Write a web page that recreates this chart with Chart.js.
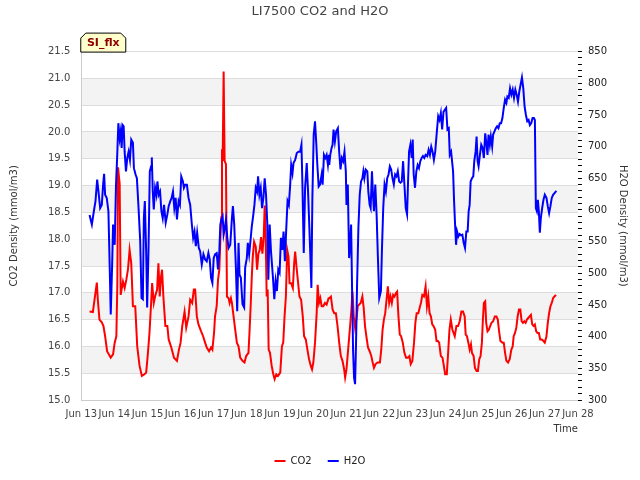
<!DOCTYPE html>
<html>
<head>
<meta charset="utf-8">
<title>LI7500 CO2 and H2O</title>
<script src="https://cdn.jsdelivr.net/npm/chart.js@4.4.0/dist/chart.umd.min.js"></script>
<style>
  body { margin: 0; background: #fff; }
  #wrap { width: 640px; height: 480px; }
</style>
</head>
<body>
<div id="wrap"><canvas id="chart" width="640" height="480"></canvas></div>
<script>
// time is in days of June (13.5 = Jun 13, 12:00)
const co2Days = [
  13.25, 13.35, 13.40, 13.47, 13.50, 13.55, 13.62, 13.67, 13.72, 13.78, 13.89, 13.96,
  14.01, 14.06, 14.09, 14.11, 14.16, 14.19, 14.26, 14.31, 14.36, 14.41, 14.46, 14.51,
  14.56, 14.63, 14.69, 14.76, 14.83, 14.91, 14.96, 15.01, 15.06, 15.11, 15.14, 15.19,
  15.23, 15.29, 15.33, 15.37, 15.41, 15.44, 15.48, 15.54, 15.60, 15.64, 15.72, 15.80,
  15.89, 15.95, 16.00, 16.05, 16.12, 16.17, 16.24, 16.29, 16.35, 16.40, 16.44, 16.49,
  16.54, 16.62, 16.68,
  16.74, 16.79, 16.86, 16.92, 16.96, 17.01, 17.04, 17.09, 17.13, 17.17, 17.20, 17.23,
  17.25, 17.27, 17.30, 17.33, 17.37, 17.40, 17.45, 17.48, 17.52, 17.55, 17.60, 17.65,
  17.70, 17.75, 17.80, 17.87, 17.93, 17.98, 18.05, 18.08, 18.12, 18.15, 18.18, 18.22,
  18.27, 18.31, 18.35, 18.39, 18.43, 18.47, 18.51, 18.54, 18.57, 18.60, 18.63, 18.66,
  18.70, 18.75, 18.80, 18.84, 18.89, 18.94, 19.01, 19.06, 19.10, 19.14, 19.18, 19.22,
  19.26, 19.29, 19.34, 19.39, 19.43, 19.46, 19.50, 19.54, 19.59, 19.64, 19.69, 19.73,
  19.78, 19.83, 19.88, 19.93, 19.97, 20.01, 20.06, 20.11, 20.14, 20.18, 20.22, 20.26,
  20.31, 20.36, 20.41, 20.47,
  20.49, 20.54, 20.59, 20.64, 20.69, 20.74, 20.79, 20.84, 20.89, 20.94, 20.97, 21.01,
  21.06, 21.11, 21.16, 21.19, 21.23, 21.27, 21.31, 21.35, 21.39, 21.44, 21.49, 21.53,
  21.57, 21.61, 21.66, 21.71, 21.76, 21.79, 21.84, 21.89, 21.95, 22.02, 22.06, 22.10,
  22.14, 22.18, 22.22, 22.26, 22.30, 22.34, 22.38, 22.42, 22.46, 22.50, 22.54, 22.58,
  22.62, 22.66, 22.71, 22.76, 22.81, 22.86, 22.91, 22.95, 23.00, 23.05, 23.09, 23.13,
  23.18, 23.22, 23.26, 23.30, 23.35, 23.40, 23.44, 23.48, 23.52, 23.56, 23.60, 23.64,
  23.69, 23.73, 23.77, 23.81, 23.86, 23.91, 23.95, 23.99, 24.04, 24.08, 24.12, 24.16,
  24.21,
  24.28, 24.33, 24.38, 24.43, 24.48, 24.53, 24.58, 24.61, 24.65, 24.69, 24.73, 24.77,
  24.80, 24.85, 24.89, 24.94, 24.98, 25.02, 25.06, 25.10, 25.13, 25.16, 25.20, 25.23,
  25.27, 25.31, 25.35, 25.39, 25.44, 25.49, 25.54, 25.58, 25.62, 25.66, 25.72, 25.76,
  25.80, 25.84, 25.89, 25.94, 25.99, 26.03, 26.06, 26.10, 26.14, 26.18, 26.22, 26.26,
  26.30, 26.34, 26.38, 26.42, 26.46, 26.50, 26.54, 26.58, 26.62, 26.66, 26.70, 26.74,
  26.78, 26.82, 26.86, 26.91, 26.96, 27.00, 27.05, 27.09, 27.13, 27.17, 27.21, 27.25,
  27.29, 27.34
];
const co2Values = [
  16.65, 16.64, 16.87, 17.19, 16.87, 16.50, 16.45, 16.38, 16.19, 15.91, 15.79, 15.85,
  16.07, 16.19, 17.18, 19.34, 19.03, 16.96, 17.21, 17.09, 17.24, 17.43, 17.80, 17.55,
  16.75, 16.75, 16.00, 15.64, 15.45, 15.48, 15.51, 15.85, 16.25, 16.81, 17.18, 16.81,
  16.93, 17.06, 17.55, 16.93, 17.30, 17.43, 16.93, 16.38, 16.38, 16.13, 15.98, 15.79,
  15.73, 15.94, 16.07, 16.38, 16.65, 16.35, 16.56, 16.87, 16.81, 17.06, 17.06, 16.56,
  16.41, 16.28, 16.19,
  16.07, 15.98, 15.91, 15.98, 15.94, 16.25, 16.56, 16.75, 17.24, 17.43, 17.98, 18.41,
  19.68, 19.46, 21.13, 19.46, 19.40, 16.93, 16.90, 16.81, 16.90, 16.81, 16.56, 16.31,
  16.07, 16.00, 15.79, 15.73, 15.70, 15.82, 15.88, 16.25, 16.81, 17.30, 17.67, 17.95,
  17.86, 17.43, 17.73, 17.80, 18.04, 17.73, 18.04, 18.63, 18.04, 16.93, 17.06, 15.94,
  15.88, 15.64, 15.48, 15.39, 15.48, 15.45, 15.51, 16.00, 16.07, 16.56, 16.93, 17.80,
  17.67, 17.18, 17.18, 17.09, 17.55, 17.77, 17.49, 17.24, 16.93, 16.87, 16.56, 16.19,
  16.13, 15.94, 15.76, 15.64, 15.57, 15.70, 16.07, 16.62, 17.15, 16.81, 16.90, 16.75,
  16.75, 16.81, 16.78, 16.90,
  16.90, 16.93, 16.69, 16.62, 16.62, 16.38, 16.07, 15.82, 15.73, 15.57, 15.42, 15.57,
  15.94, 16.31, 16.69, 17.02, 16.56, 16.35, 16.50, 16.75, 16.78, 16.81, 16.93, 16.72,
  16.38, 16.19, 15.98, 15.91, 15.82, 15.73, 15.60, 15.67, 15.70, 15.70, 15.94, 16.31,
  16.50, 16.62, 16.87, 17.12, 16.81, 16.93, 16.81, 16.96, 16.93, 16.99, 17.02, 16.56,
  16.22, 16.19, 16.07, 15.88, 15.79, 15.79, 15.82, 15.67, 15.73, 16.07, 16.44, 16.62,
  16.62, 16.72, 16.81, 16.96, 16.93, 17.12, 16.75, 16.93, 16.62, 16.56, 16.41, 16.38,
  16.31, 16.10, 16.10, 16.07, 15.82, 15.79, 15.64, 15.48, 15.48, 15.88, 16.31, 16.50,
  16.31,
  16.19, 16.38, 16.38, 16.47, 16.65, 16.65, 16.56, 16.22, 16.19, 16.07, 15.94, 16.04,
  15.88, 15.82, 15.60, 15.54, 15.54, 15.76, 15.82, 16.07, 16.50, 16.81, 16.84, 16.44,
  16.28, 16.31, 16.38, 16.44, 16.47, 16.56, 16.56, 16.50, 16.28, 16.10, 16.07, 16.07,
  15.88, 15.73, 15.70, 15.76, 15.94, 16.00, 16.19, 16.25, 16.35, 16.56, 16.69, 16.69,
  16.47, 16.44, 16.47, 16.44, 16.50, 16.53, 16.56, 16.59, 16.41, 16.38, 16.41, 16.28,
  16.25, 16.25, 16.13, 16.13, 16.10, 16.07, 16.19, 16.44, 16.62, 16.75, 16.81, 16.90,
  16.93, 16.96
];

const h2oDays = [
  13.25, 13.32, 13.38, 13.43, 13.48, 13.52, 13.57, 13.62, 13.66, 13.69, 13.72, 13.77,
  13.82, 13.86, 13.89, 13.93, 13.96, 14.01, 14.05, 14.09, 14.12, 14.16, 14.19, 14.22,
  14.25, 14.28, 14.31, 14.35, 14.39, 14.43, 14.47, 14.51, 14.56, 14.59, 14.64, 14.68,
  14.73, 14.78, 14.82, 14.86, 14.89, 14.92, 14.96, 14.99, 15.03, 15.07, 15.11, 15.13,
  15.16, 15.19, 15.23, 15.27, 15.30, 15.34, 15.38, 15.42, 15.46, 15.50, 15.55, 15.60,
  15.64, 15.69, 15.73, 15.77, 15.81, 15.85, 15.89, 15.94, 15.98, 16.02, 16.07, 16.10,
  16.14, 16.19, 16.24, 16.29, 16.34, 16.38, 16.42, 16.46, 16.50, 16.55, 16.59, 16.64,
  16.69,
  16.74, 16.79, 16.84, 16.88, 16.92, 16.96, 17.00, 17.04, 17.09, 17.13, 17.17, 17.20,
  17.23, 17.27, 17.30, 17.33, 17.37, 17.41, 17.45, 17.50, 17.55, 17.58, 17.62, 17.67,
  17.71, 17.75, 17.78, 17.82, 17.87, 17.92, 17.95, 18.00, 18.03, 18.07, 18.11, 18.15,
  18.19, 18.23, 18.27, 18.31, 18.34, 18.38, 18.42, 18.46, 18.50, 18.54, 18.58, 18.62,
  18.65, 18.69, 18.73, 18.79, 18.83, 18.87, 18.91, 18.95, 18.99, 19.03, 19.07, 19.11,
  19.15, 19.19, 19.23, 19.27, 19.31, 19.34, 19.38, 19.41, 19.46, 19.51, 19.56, 19.61,
  19.65, 19.68, 19.72, 19.76, 19.81, 19.85, 19.90, 19.95, 19.98, 20.02, 20.06, 20.10,
  20.13, 20.17, 20.21, 20.26, 20.29, 20.33, 20.37, 20.41, 20.45, 20.48,
  20.49, 20.52, 20.56, 20.59, 20.62, 20.66, 20.70, 20.75, 20.79, 20.83, 20.87, 20.91,
  20.95, 20.99, 21.01, 21.05, 21.09, 21.12, 21.15, 21.18, 21.21, 21.24, 21.27, 21.30,
  21.33, 21.37, 21.41, 21.45, 21.49, 21.52, 21.55, 21.59, 21.64, 21.67, 21.71, 21.74,
  21.78, 21.81, 21.84, 21.88, 21.92, 21.96, 22.00, 22.05, 22.08, 22.12, 22.16, 22.20,
  22.24, 22.28, 22.32, 22.36, 22.40, 22.44, 22.48, 22.52, 22.56, 22.60, 22.64, 22.68,
  22.72, 22.76, 22.80, 22.84, 22.87, 22.90, 22.94, 22.98, 23.01, 23.04, 23.08, 23.12,
  23.16, 23.20, 23.24, 23.28, 23.32, 23.36, 23.40, 23.45, 23.49, 23.53, 23.57, 23.61,
  23.65, 23.69, 23.74, 23.78, 23.82, 23.86, 23.90, 23.94, 23.98, 24.02, 24.06, 24.10,
  24.13, 24.17,
  24.23, 24.26, 24.29, 24.32, 24.35, 24.39, 24.43, 24.47, 24.51, 24.55, 24.59, 24.63,
  24.67, 24.70, 24.73, 24.76, 24.80, 24.84, 24.87, 24.91, 24.94, 24.97, 25.00, 25.04,
  25.08, 25.12, 25.16, 25.20, 25.24, 25.27, 25.30, 25.34, 25.37, 25.41, 25.44, 25.48,
  25.52, 25.56, 25.60, 25.64, 25.68, 25.72, 25.76, 25.80, 25.84, 25.87, 25.91, 25.95,
  25.99, 26.03, 26.07, 26.11, 26.15, 26.19, 26.23, 26.27, 26.31, 26.35, 26.39, 26.43,
  26.47, 26.51, 26.55, 26.59, 26.63, 26.67, 26.70, 26.73, 26.76, 26.79, 26.82, 26.85,
  26.88, 26.92, 26.96, 27.00, 27.05, 27.09, 27.13, 27.17, 27.21, 27.25, 27.30, 27.35
];
const h2oValues = [
  592, 577, 598, 614, 648, 629, 603, 608, 640, 657, 624, 619,
  598, 508, 435, 508, 577, 545, 640, 692, 737, 713, 724, 698,
  734, 732, 692, 661, 682, 692, 679, 711, 706, 666, 656, 650,
  603, 551, 461, 459, 587, 614, 535, 446, 535, 661, 669, 683,
  629, 601, 635, 624, 645, 624, 629, 598, 587, 608, 580, 593,
  606, 614, 619, 629, 603, 619, 585, 614, 608, 653, 645, 635,
  640, 640, 619, 608, 577, 556, 566, 543, 564, 540, 535, 514,
  530,
  522, 519, 532, 522, 493, 485, 524, 530, 532, 506, 535, 577,
  585, 590, 561, 569, 585, 556, 540, 545, 587, 606, 577, 509,
  440, 548, 498, 493, 451, 446, 509, 524, 548, 530, 551, 574,
  590, 608, 635, 629, 653, 624, 635, 603, 619, 650, 624, 577,
  490, 577, 535, 493, 459, 488, 472, 506, 501, 556, 537, 566,
  519, 569, 614, 608, 640, 671, 658, 674, 679, 690, 692, 692,
  703, 640, 532, 635, 674, 629, 556, 477, 619, 719, 740, 703,
  671, 637, 640, 656, 640, 687, 682, 687, 671, 687,
  671, 687, 698, 703, 727, 708, 724, 729, 692, 664, 682, 677,
  692, 661, 608, 640, 524, 545, 577, 472, 377, 335, 325, 393,
  482, 572, 624, 645, 650, 661, 650, 664, 661, 629, 608, 603,
  661, 624, 598, 640, 593, 524, 461, 472, 535, 603, 640, 629,
  650, 656, 669, 664, 650, 640, 656, 653, 661, 645, 643, 645,
  677, 640, 603, 593, 645, 692, 703, 682, 711, 656, 635, 661,
  671, 666, 677, 682, 685, 682, 687, 685, 695, 687, 700, 692,
  679, 692, 724, 748, 742, 753, 727, 755, 758, 761, 727, 729,
  687, 692,
  661, 614, 577, 545, 566, 558, 562, 560, 561, 548, 540, 566,
  566, 598, 608, 645, 650, 653, 677, 692, 716, 677, 669, 687,
  703, 698, 682, 721, 703, 687, 719, 703, 716, 700, 719, 724,
  729, 732, 729, 737, 737, 745, 761, 774, 769, 779, 777, 792,
  782, 790, 777, 790, 782, 771, 787, 798, 809, 792, 763, 750,
  740, 742, 734, 737, 745, 745, 742, 603, 598, 616, 598, 564,
  587, 603, 616, 624, 619, 606, 595, 606, 619, 624, 627, 630
];

// lower edges of the shaded horizontal bands (CO2 units)
const bandStarts = [15.5, 16.5, 17.5, 18.5, 19.5, 20.5];

function toPoints(xs, ys) {
  let pts = [];
  for (let i = 0; i < xs.length; i++) {
    pts.push({x: xs[i], y: ys[i]});
  }
  return pts;
}

const bandsPlugin = {
  id: "bands",
  beforeDraw(chart) {
    const ctx = chart.ctx;
    const area = chart.chartArea;
    const yScale = chart.scales.y;
    ctx.save();
    ctx.fillStyle = "#f3f3f3";
    for (let i = 0; i < bandStarts.length; i++) {
      const top = yScale.getPixelForValue(bandStarts[i] + 0.5);
      const bottom = yScale.getPixelForValue(bandStarts[i]);
      ctx.fillRect(area.left, top, area.right - area.left, bottom - top);
    }
    ctx.restore();
  }
};

// little "SI_flx" tag sitting on the top-left corner of the plot
const tagPlugin = {
  id: "tag",
  afterDraw(chart) {
    const ctx = chart.ctx;
    const x = chart.chartArea.left - 0.5;
    const y = chart.chartArea.top + 0.5;
    const w = 45, h = 19, c = 5;
    ctx.save();
    ctx.beginPath();
    ctx.moveTo(x, y);
    ctx.lineTo(x, y - h + c);
    ctx.lineTo(x + c, y - h);
    ctx.lineTo(x + w - c, y - h);
    ctx.lineTo(x + w, y - h + c);
    ctx.lineTo(x + w, y);
    ctx.closePath();
    ctx.fillStyle = "#ffffcc";
    ctx.fill();
    ctx.strokeStyle = "#000";
    ctx.lineWidth = 1;
    ctx.stroke();
    ctx.fillStyle = "#8b0000";
    ctx.font = "bold 11px 'DejaVu Sans'";
    ctx.textAlign = "center";
    ctx.textBaseline = "middle";
    ctx.fillText("SI_flx", x + w / 2, y - h / 2 + 1);
    ctx.restore();
  }
};

Chart.defaults.font.family = "'DejaVu Sans', sans-serif";
Chart.defaults.font.size = 10;
Chart.defaults.color = "#333";

new Chart(document.getElementById("chart"), {
  type: "line",
  data: {
    datasets: [
      {
        label: "CO2",
        data: toPoints(co2Days, co2Values),
        yAxisID: "y",
        borderColor: "#ff0000",
        backgroundColor: "#ff0000",
        borderWidth: 2,
        pointRadius: 0,
        order: 1
      },
      {
        label: "H2O",
        data: toPoints(h2oDays, h2oValues),
        yAxisID: "y2",
        borderColor: "#0000ff",
        backgroundColor: "#0000ff",
        borderWidth: 2,
        pointRadius: 0,
        order: 0
      }
    ]
  },
  options: {
    responsive: false,
    animation: false,
    layout: { padding: { left: 4, right: 4, top: 0, bottom: 4 } },
    plugins: {
      title: {
        display: true,
        text: "LI7500 CO2 and H2O",
        color: "#444",
        font: { size: 13, weight: "normal" },
        padding: { top: 4, bottom: 32 }
      },
      legend: {
        position: "bottom",
        labels: {
          usePointStyle: true,
          pointStyle: "line",
          pointStyleWidth: 11,
          padding: 16,
          color: "#222",
          sort: (a, b) => a.datasetIndex - b.datasetIndex
        }
      },
      tooltip: { enabled: false }
    },
    scales: {
      x: {
        type: "linear",
        min: 13,
        max: 28,
        grid: { display: false },
        border: { color: "#cccccc" },
        ticks: {
          stepSize: 1,
          autoSkip: false,
          maxRotation: 0,
          minRotation: 0,
          color: "#444",
          padding: 0,
          callback: v => "Jun " + v
        },
        title: {
          display: true,
          text: "Time",
          align: "end",
          color: "#333",
          padding: { top: 3, bottom: 5 }
        }
      },
      y: {
        position: "left",
        min: 15,
        max: 21.5,
        grid: { color: "#dddddd", drawTicks: false },
        border: { color: "#cccccc" },
        ticks: {
          stepSize: 0.5,
          color: "#444",
          padding: 11,
          callback: v => v.toFixed(1)
        },
        title: {
          display: true,
          text: "CO2 Density (mmol/m3)",
          color: "#333",
          padding: { top: 4, bottom: 17 }
        }
      },
      y2: {
        position: "right",
        min: 300,
        max: 850,
        grid: { drawOnChartArea: false, tickLength: 4, tickColor: "#000" },
        border: { display: false },
        ticks: {
          stepSize: 10,
          maxTicksLimit: 100,
          autoSkip: false,
          color: "#222",
          padding: 6,
          callback: v => (v % 50 === 0 ? v : "")
        },
        title: {
          display: true,
          text: "H2O Density (mmol/m3)",
          color: "#333",
          padding: { top: 7 }
        }
      }
    }
  },
  plugins: [bandsPlugin, tagPlugin]
});
</script>
</body>
</html>
